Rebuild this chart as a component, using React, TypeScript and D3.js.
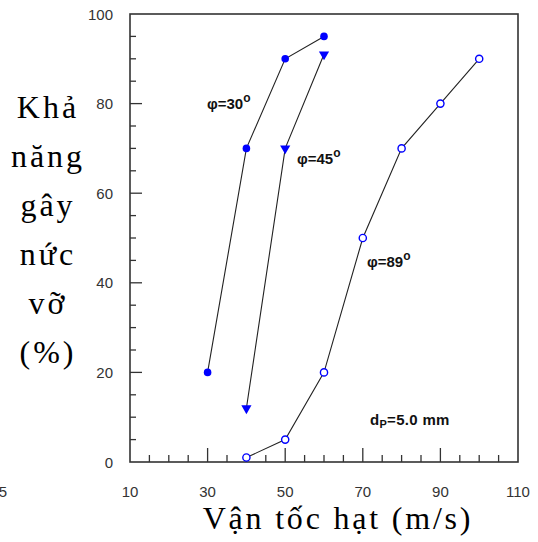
import React from "react";
import * as d3 from "d3";

const W = 538;
const H = 542;

// Data (velocity m/s, breakage probability %)
const v30 = [30, 40, 50, 60];
const p30 = [20, 70, 90, 95];
const v45 = [40, 50, 60];
const p45 = [12, 70, 91];
const v89 = [40, 50, 60, 70, 80, 90, 100];
const p89 = [1, 5, 20, 50, 70, 80, 90];

const xTickLabels = [10, 30, 50, 70, 90, 110];
const yTickLabels = [0, 20, 40, 60, 80, 100];
const yTitleLines = ["Khả", "năng", "gây", "nức", "vỡ", "(%)"];
const xTitle = "Vận tốc hạt (m/s)";

const BLUE = "#0000ff";
const AX = "#333";

export default function App() {
  const x = d3.scaleLinear().domain([10, 110]).range([130, 518]);
  const y = d3.scaleLinear().domain([0, 100]).range([462, 14]);
  const line = d3
    .line<[number, number]>()
    .x((d) => x(d[0]))
    .y((d) => y(d[1]));

  const s30: [number, number][] = v30.map((v, i) => [v, p30[i]]);
  const s45: [number, number][] = v45.map((v, i) => [v, p45[i]]);
  const s89: [number, number][] = v89.map((v, i) => [v, p89[i]]);

  const xMinor = d3.range(15, 110, 5);
  const yMinor = d3.range(5, 100, 5);

  const tri = d3.symbol().type(d3.symbolTriangle).size(45)();

  const annFont = "'Liberation Sans', Arial, sans-serif";

  return (
    <svg
      width={W}
      height={H}
      style={{ position: "absolute", left: 0, top: 0, background: "#fff" }}
    >
      <rect x={0} y={0} width={W} height={H} fill="#fff" />
      {/* frame */}
      <rect
        x={x(10)}
        y={y(100)}
        width={x(110) - x(10)}
        height={y(0) - y(100)}
        fill="none"
        stroke={AX}
        strokeWidth={1.6}
      />
      {/* x ticks (inward) */}
      {xMinor.map((v) => {
        const major = (v - 10) % 20 === 0;
        return (
          <line
            key={"xt" + v}
            x1={x(v)}
            x2={x(v)}
            y1={y(0)}
            y2={y(0) - (major ? 14 : 7)}
            stroke={AX}
            strokeWidth={1.3}
          />
        );
      })}
      {/* y ticks (inward) */}
      {yMinor.map((v) => {
        const major = v % 20 === 0;
        return (
          <line
            key={"yt" + v}
            y1={y(v)}
            y2={y(v)}
            x1={x(10)}
            x2={x(10) + (major ? 12 : 6)}
            stroke={AX}
            strokeWidth={1.3}
          />
        );
      })}
      {/* tick labels */}
      {xTickLabels.map((v) => (
        <text
          key={"xl" + v}
          x={x(v)}
          y={497}
          textAnchor="middle"
          fontFamily={annFont}
          fontSize={15}
          fill={AX}
        >
          {v}
        </text>
      ))}
      {yTickLabels.map((v) => (
        <text
          key={"yl" + v}
          x={113}
          y={y(v) + 5.5}
          textAnchor="end"
          fontFamily={annFont}
          fontSize={15}
          fill={AX}
        >
          {v}
        </text>
      ))}
      <text x={7} y={497} textAnchor="end" fontFamily={annFont} fontSize={15} fill={AX}>
        5
      </text>

      {/* lines */}
      <path d={line(s30) || ""} fill="none" stroke="#222" strokeWidth={1.1} />
      <path d={line(s45) || ""} fill="none" stroke="#222" strokeWidth={1.1} />
      <path d={line(s89) || ""} fill="none" stroke="#222" strokeWidth={1.1} />

      {/* markers */}
      {s30.map((d, i) => (
        <circle key={"m30" + i} cx={x(d[0])} cy={y(d[1])} r={3.8} fill={BLUE} />
      ))}
      {s45.map((d, i) => (
        <path
          key={"m45" + i}
          d={tri || ""}
          transform={`translate(${x(d[0])},${y(d[1])}) rotate(180)`}
          fill={BLUE}
        />
      ))}
      {s89.map((d, i) => (
        <circle
          key={"m89" + i}
          cx={x(d[0])}
          cy={y(d[1])}
          r={3.6}
          fill="#fff"
          stroke={BLUE}
          strokeWidth={1.4}
        />
      ))}

      {/* annotations */}
      <text x={207} y={109} fontFamily={annFont} fontSize={15} fontWeight="bold" fill="#111">
        φ=30<tspan dy={-7} fontSize={12}>o</tspan>
      </text>
      <text x={297} y={164} fontFamily={annFont} fontSize={15} fontWeight="bold" fill="#111">
        φ=45<tspan dy={-7} fontSize={12}>o</tspan>
      </text>
      <text x={367} y={267} fontFamily={annFont} fontSize={15} fontWeight="bold" fill="#111">
        φ=89<tspan dy={-7} fontSize={12}>o</tspan>
      </text>
      <text x={370} y={425} fontFamily={annFont} fontSize={15} fontWeight="bold" fill="#111" letterSpacing={0.3}>
        d<tspan dy={3} fontSize={11}>P</tspan>
        <tspan dy={-3}>=5.0 mm</tspan>
      </text>

      {/* y title */}
      {yTitleLines.map((t, i) => (
        <text
          key={"yt" + i}
          x={48}
          y={118 + i * 49}
          textAnchor="middle"
          fontFamily="'Liberation Serif', 'Times New Roman', serif"
          fontSize={32}
          letterSpacing={3}
          fill="#000"
        >
          {t}
        </text>
      ))}
      {/* x title */}
      <text
        x={338}
        y={529}
        textAnchor="middle"
        fontFamily="'Liberation Serif', 'Times New Roman', serif"
        fontSize={32}
        letterSpacing={2.8}
        fill="#000"
      >
        {xTitle}
      </text>
    </svg>
  );
}
